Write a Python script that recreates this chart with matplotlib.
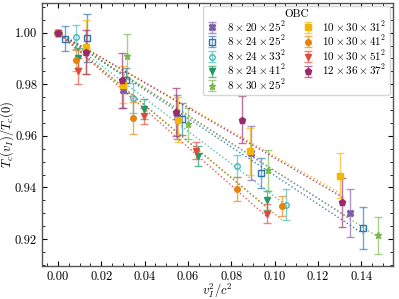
import numpy as np
import matplotlib
matplotlib.use("Agg")
import matplotlib.pyplot as plt

plt.rcParams['font.family'] = 'serif'
plt.rcParams['font.serif'] = ['cmr10']
plt.rcParams['mathtext.fontset'] = 'cm'
plt.rcParams['axes.formatter.use_mathtext'] = True
plt.rcParams['axes.unicode_minus'] = False

# lattice labels
labels = [r'$8\times20\times25^2$', r'$8\times24\times25^2$', r'$8\times24\times33^2$',
          r'$8\times24\times41^2$', r'$8\times30\times25^2$', r'$10\times30\times31^2$',
          r'$10\times30\times41^2$', r'$10\times30\times51^2$', r'$12\times36\times37^2$']

# v_I^2/c^2 values per lattice
x_820_25 = [0.0, 0.0300, 0.0548, 0.0890, 0.1349]
x_824_25 = [0.0, 0.0032, 0.0134, 0.0314, 0.0574, 0.0936, 0.1407]
x_824_33 = [0.0, 0.0082, 0.0348, 0.0828, 0.1053]
x_824_41 = [0.0, 0.0094, 0.0397, 0.0645, 0.0964]
x_830_25 = [0.0, 0.0317, 0.0599, 0.0971, 0.1477]
x_1030_31 = [0.0, 0.0129, 0.0302, 0.0553, 0.0887, 0.1302]
x_1030_41 = [0.0, 0.0082, 0.0345, 0.0825, 0.1033]
x_1030_51 = [0.0, 0.0094, 0.0397, 0.0636, 0.0964]
x_1236_37 = [0.0, 0.0129, 0.0294, 0.0543, 0.0851, 0.1313]

# T_c(v_I)/T_c(0)
y_820_25 = [1.0, 0.9776, 0.9673, 0.9532, 0.9301]
y_824_25 = [1.0, 0.9977, 0.9979, 0.9815, 0.9666, 0.9456, 0.9243]
y_824_33 = [1.0, 0.9983, 0.9747, 0.9482, 0.9333]
y_824_41 = [1.0, 0.9902, 0.9704, 0.9521, 0.9350]
y_830_25 = [1.0, 0.9908, 0.9646, 0.9466, 0.9214]
y_1030_31 = [1.0, 0.9945, 0.9798, 0.9663, 0.9540, 0.9446]
y_1030_41 = [1.0, 0.9893, 0.9669, 0.9395, 0.9329]
y_1030_51 = [1.0, 0.9850, 0.9676, 0.9543, 0.9298]
y_1236_37 = [1.0, 0.9925, 0.9815, 0.9693, 0.9663, 0.9342]

# errors
e_820_25 = [0.0, 0.0070, 0.0087, 0.0105, 0.0094]
e_824_25 = [0.0, 0.0050, 0.0093, 0.0048, 0.0063, 0.0058, 0.0080]
e_824_33 = [0.0, 0.0045, 0.0058, 0.0043, 0.0060]
e_824_41 = [0.0, 0.0039, 0.0040, 0.0039, 0.0037]
e_830_25 = [0.0, 0.0086, 0.0060, 0.0078, 0.0071]
e_1030_31 = [0.0, 0.0105, 0.0071, 0.0087, 0.0090, 0.0086]
e_1030_41 = [0.0, 0.0040, 0.0062, 0.0047, 0.0039]
e_1030_51 = [0.0, 0.0050, 0.0030, 0.0034, 0.0036]
e_1236_37 = [0.0, 0.0086, 0.0107, 0.0093, 0.0090, 0.0096]

xs = [x_820_25, x_824_25, x_824_33, x_824_41, x_830_25, x_1030_31, x_1030_41, x_1030_51, x_1236_37]
ys = [y_820_25, y_824_25, y_824_33, y_824_41, y_830_25, y_1030_31, y_1030_41, y_1030_51, y_1236_37]
es = [e_820_25, e_824_25, e_824_33, e_824_41, e_830_25, e_1030_31, e_1030_41, e_1030_51, e_1236_37]

colors = ['#7e5ea8', '#2f74ad', '#45b8bb', '#1f9a64', '#79b84a', '#f2b705', '#e6820e', '#e2493b', '#9b2a6d']
markers = ['X', 's', 'o', 'v', '*', 's', 'o', 'v', 'p']
open_m = [False, True, True, False, False, False, False, False, False]
msizes = [4.5, 4, 4, 4, 5, 5, 4, 4, 4.5]

fig = plt.figure(figsize=(3.99, 2.99), dpi=100)
ax = fig.add_axes([0.105, 0.11, 0.88, 0.881])

for x, y, e, c, m, o, ms, lab in zip(xs, ys, es, colors, markers, open_m, msizes, labels):
    x = np.array(x); y = np.array(y); e = np.array(e)
    # straight fit through T_c(v_I)/T_c(0) = 1 at v_I = 0
    a = np.sum(x * (y - 1.0)) / np.sum(x * x)
    xf = np.linspace(0, x.max(), 50)
    ax.plot(xf, 1.0 + a * xf, ls=':', lw=1.0, color=c, alpha=0.9)
    ax.errorbar(x, y, yerr=e, linestyle='none', marker=m, color=c, ms=ms,
                mfc='none' if o else c, mew=1.0, ecolor=matplotlib.colors.to_rgba(c, 0.65),
                elinewidth=1.0, capsize=3, capthick=1.0, label=lab)

ax.set_xlim(-0.0074, 0.1547)
ax.set_ylim(0.9095, 1.0116)
ax.set_xticks(np.arange(0, 0.141, 0.02))
ax.set_yticks([0.92, 0.94, 0.96, 0.98, 1.00])
ax.xaxis.set_minor_locator(matplotlib.ticker.MultipleLocator(0.005))
ax.yaxis.set_minor_locator(matplotlib.ticker.MultipleLocator(0.005))
ax.xaxis.set_major_formatter(matplotlib.ticker.FormatStrFormatter('%.2f'))
ax.yaxis.set_major_formatter(matplotlib.ticker.FormatStrFormatter('%.2f'))
ax.tick_params(which='both', direction='in', top=True, right=True, labelsize=9)
ax.tick_params(which='major', length=3.5)
ax.tick_params(which='minor', length=2)
for s in ax.spines.values():
    s.set_linewidth(1.0)
    s.set_color('#555555')

ax.set_xlabel(r'$v_I^2/c^2$', fontsize=9, labelpad=-1)
ax.set_ylabel(r'$T_c(v_I)/T_c(0)$', fontsize=9)
ax.yaxis.set_label_coords(-0.073, 0.5)

ax.legend(title='OBC', ncol=2, loc='upper right', fontsize=8, title_fontsize=8,
          handlelength=1.0, handletextpad=0.8, columnspacing=1.5, labelspacing=0.0,
          borderpad=0.3, borderaxespad=0.3)

fig.savefig('out.png', dpi=100)
